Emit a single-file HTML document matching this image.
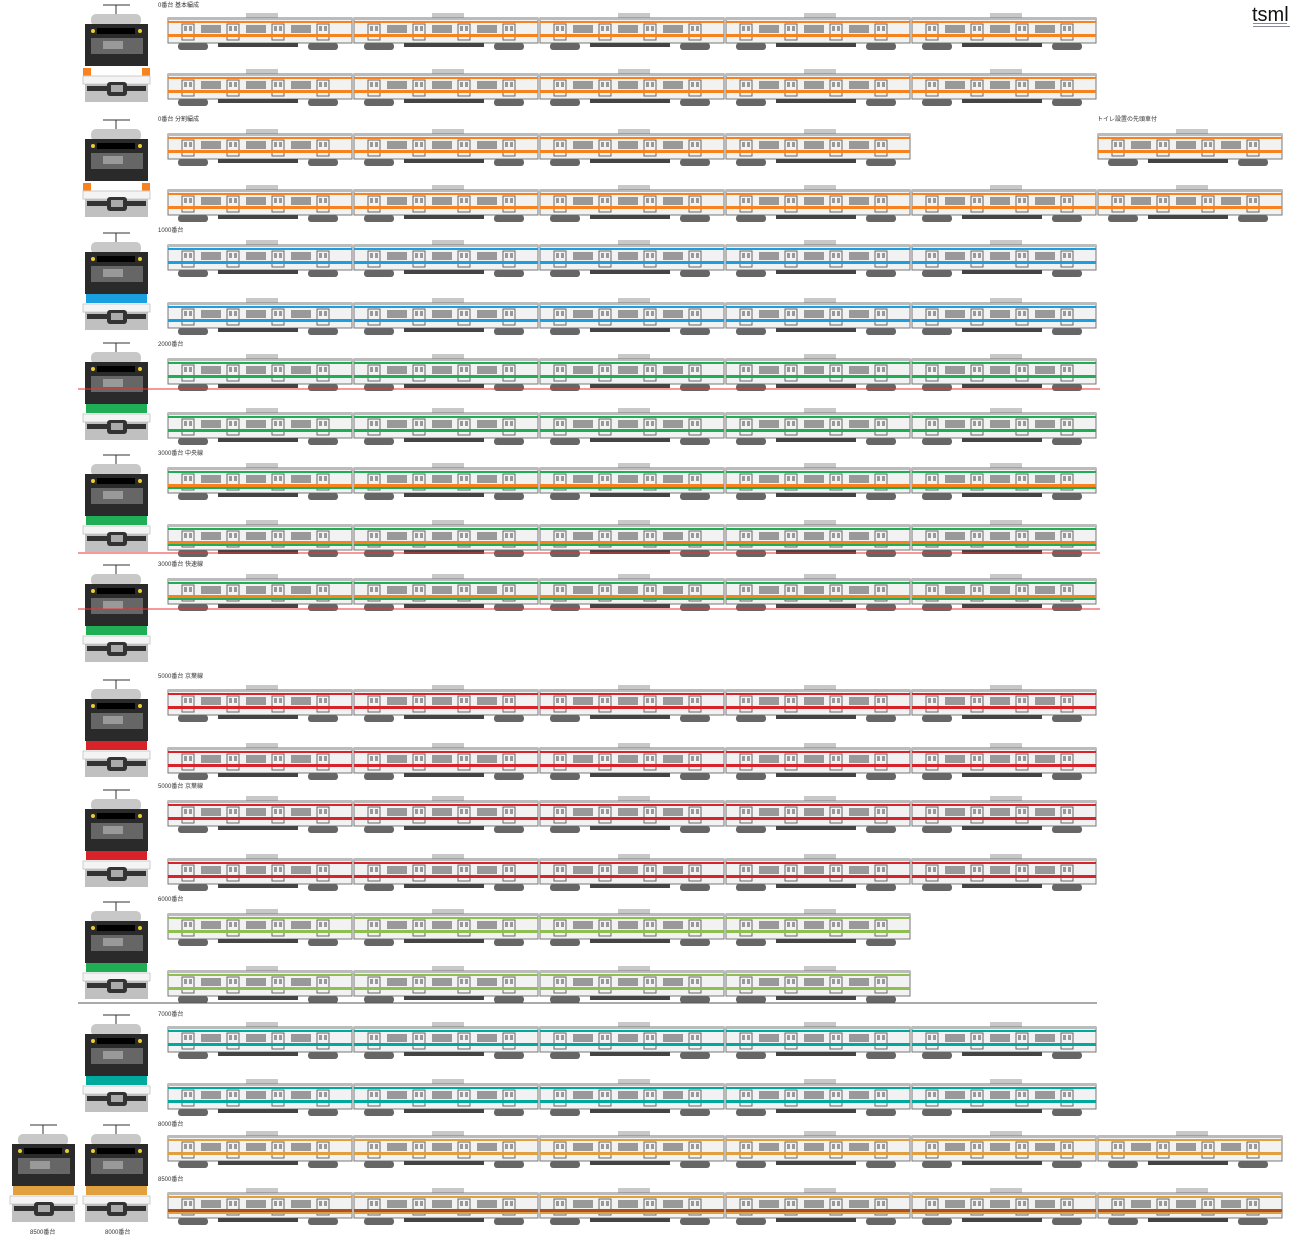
<!DOCTYPE html>
<html><head><meta charset="utf-8"><style>
html,body{margin:0;padding:0;background:#fff;width:1315px;height:1246px;overflow:hidden}
svg{display:block}
text{font-family:"Liberation Sans","Noto Sans CJK JP",sans-serif}
</style></head><body>
<svg id="s" width="1315" height="1246" xmlns="http://www.w3.org/2000/svg">
<text x="1252" y="21" font-size="20" fill="#111">tsml</text>
<rect x="1253" y="23" width="34" height="1" fill="#889"/>
<rect x="1253" y="26" width="37" height="1" fill="#889"/>
</svg>
<script>
const S=document.getElementById('s');let h='';
const O='#f7821e',B='#1aa0e0',G='#1fae55',R='#d8232a',OL='#8fbf50',T='#00a99d',Y='#e0a040';
const X=[168,354,540,726,912,1098];
function car(x,y,c,c2,w){w=w||184;
 let s=`<rect x="${x+78}" y="${y-5}" width="32" height="5" fill="#c8c8c8"/>`;
 s+=`<rect x="${x}" y="${y}" width="${w}" height="25" fill="#f2f2f2" stroke="#777" stroke-width="1"/>`;
 s+=`<rect x="${x}" y="${y}" width="${w}" height="2" fill="#bbb"/>`;
 s+=`<rect x="${x}" y="${y+3}" width="${w}" height="2" fill="${c}"/>`;
 for(let i=0;i<4;i++){let dx=x+14+i*45;
  s+=`<rect x="${dx}" y="${y+6}" width="12" height="16" fill="none" stroke="#666"/>`;
  s+=`<rect x="${dx+2}" y="${y+8}" width="3" height="5" fill="#999"/><rect x="${dx+7}" y="${y+8}" width="3" height="5" fill="#999"/>`;
  if(i<3)s+=`<rect x="${dx+19}" y="${y+7}" width="20" height="8" fill="#999"/>`;}
 s+=`<rect x="${x}" y="${y+16}" width="${w}" height="3" fill="${c2||c}"/>`;
 if(c2&&c2!=c)s+=`<rect x="${x}" y="${y+19}" width="${w}" height="2" fill="${c}"/>`;
 s+=`<rect x="${x+10}" y="${y+25}" width="30" height="7" rx="3" fill="#666"/><rect x="${x+140}" y="${y+25}" width="30" height="7" rx="3" fill="#666"/>`;
 s+=`<rect x="${x+50}" y="${y+25}" width="80" height="4" fill="#444"/>`;
 return s;}
function face(x,y,c,side){let s=`<line x1="${x+20}" y1="${y+3}" x2="${x+47}" y2="${y+3}" stroke="#333"/><line x1="${x+33}" y1="${y+3}" x2="${x+33}" y2="${y+12}" stroke="#333"/>`;
 s+=`<rect x="${x+8}" y="${y+12}" width="50" height="12" rx="5" fill="#c8c8c8"/>`;
 s+=`<rect x="${x+2}" y="${y+22}" width="63" height="42" fill="#2a2a2a"/>`;
 s+=`<rect x="${x+14}" y="${y+26}" width="38" height="6" fill="#000"/><circle cx="${x+10}" cy="${y+29}" r="2" fill="#ec3"/><circle cx="${x+57}" cy="${y+29}" r="2" fill="#ec3"/>`;
 s+=`<rect x="${x+8}" y="${y+36}" width="52" height="16" fill="#666"/><rect x="${x+20}" y="${y+39}" width="20" height="8" fill="#999"/>`;
 if(side){s+=`<rect x="${x}" y="${y+66}" width="8" height="8" fill="${c}"/><rect x="${x+59}" y="${y+66}" width="8" height="8" fill="${c}"/>`;}
 else s+=`<rect x="${x+3}" y="${y+64}" width="61" height="9" fill="${c}"/>`;
 s+=`<rect x="${x}" y="${y+74}" width="67" height="8" fill="#f4f4f4" stroke="#ccc"/>`;
 s+=`<rect x="${x+2}" y="${y+82}" width="63" height="18" fill="#c0c0c0"/><rect x="${x+4}" y="${y+84}" width="59" height="5" fill="#333"/><rect x="${x+24}" y="${y+80}" width="20" height="14" rx="3" fill="#333"/><rect x="${x+28}" y="${y+83}" width="12" height="7" fill="#aaa"/>`;
 return s;}
const rows=[[18,O,O,5],[74,O,O,5],[134,O,O,4],[190,O,O,6],[245,B,B,5],[303,B,B,5],[359,G,G,5],[413,G,G,5],[468,G,O,5],[525,G,O,5],[579,G,O,5],[690,R,R,5],[748,R,R,5],[801,R,R,5],[859,R,R,5],[914,OL,OL,4],[971,OL,OL,4],[1027,T,T,5],[1084,T,T,5],[1136,Y,Y,6],[1193,Y,'#b05020',6]];
rows.forEach(r=>{for(let i=0;i<r[3];i++)h+=car(X[i],r[0],r[1],r[2]);});
h+=car(1098,134,O,O);
const labels=[[7,'0番台 基本編成'],[121,'0番台 分割編成'],[232,'1000番台'],[346,'2000番台'],[455,'3000番台 中央線'],[566,'3000番台 快速線'],[678,'5000番台 京葉線'],[788,'5000番台 京葉線'],[901,'6000番台'],[1016,'7000番台'],[1126,'8000番台'],[1181,'8500番台']];
labels.forEach(l=>h+=`<text x="158" y="${l[0]}" font-size="6" fill="#333">${l[1]}</text>`);
h+=`<text x="1097" y="121" font-size="6" fill="#333">トイレ設置の先頭車付</text>`;
const faces=[[0,O,1],[115,O,1],[228,B],[338,G],[450,G],[560,G],[675,R],[785,R],[897,G],[1010,T],[1120,Y]];
faces.forEach(f=>h+=face(83,f[0]+2,f[1],f[2]));
h+=face(10,1122,Y);
h+=`<text x="30" y="1234" font-size="6" fill="#333">8500番台</text><text x="105" y="1234" font-size="6" fill="#333">8000番台</text>`;
[389,553,609].forEach(y=>h+=`<line x1="78" y1="${y}" x2="1100" y2="${y}" stroke="#e33" stroke-width="1"/>`);
h+=`<line x1="78" y1="1003" x2="1097" y2="1003" stroke="#555"/>`;
S.insertAdjacentHTML('beforeend',h);
</script>
</body></html>
